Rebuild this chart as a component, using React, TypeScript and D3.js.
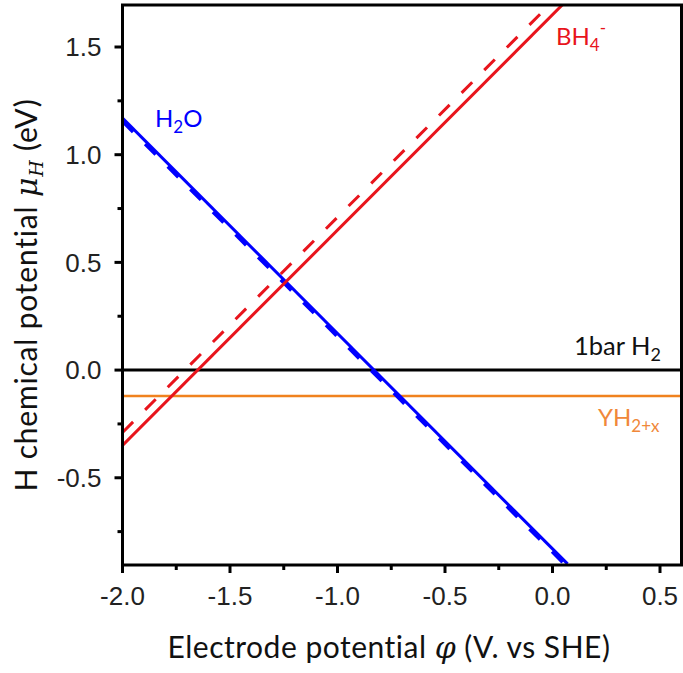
import * as d3 from 'd3'

// axis ranges and ticks
const xDomain = [-2.0, 0.6]
const yDomain = [-0.905, 1.695]
const xMajor = [-2.0, -1.5, -1.0, -0.5, 0.0, 0.5]
const xMinor = [-1.75, -1.25, -0.75, -0.25, 0.25]
const yMajor = [-0.5, 0.0, 0.5, 1.0, 1.5]
const yMinor = [-0.75, -0.25, 0.25, 0.75, 1.25]

// H2O lines (solid / dashed)
const h2oX = [-2.0, 0.07]
const h2oY = [1.17, -0.9]
const h2oDashX = [-2.0, 0.06]
const h2oDashY = [1.155, -0.905]

// BH4- lines (solid / dashed)
const bh4X = [-2.0, 0.05]
const bh4Y = [-0.35, 1.7]
const bh4DashX = [-2.0, -0.01]
const bh4DashY = [-0.29, 1.7]

// horizontal levels
const h2Level = 0.0
const yhLevel = -0.12

const W = 683
const H = 673
const margin = { left: 122.5, right: 1.5, top: 5, bottom: 108 }

export default function App() {
  const x = d3.scaleLinear().domain(xDomain).range([margin.left, W - margin.right])
  const y = d3.scaleLinear().domain(yDomain).range([H - margin.bottom, margin.top])
  const [x0, x1] = x.range()
  const [y0, y1] = y.range()

  const line = d3
    .line<[number, number]>()
    .x(d => x(d[0]))
    .y(d => y(d[1]))

  const pts = (xs: number[], ys: number[]) => xs.map((v, i) => [v, ys[i]] as [number, number])

  const tickFont = '"Liberation Sans", Arial, sans-serif'
  const labelFont = 'Lato, "Open Sans", sans-serif'
  const fmt = (v: number) => d3.format('.1f')(v).replace('−', '-')

  return (
    <svg
      width={W}
      height={H}
      style={{ position: 'absolute', left: 0, top: 0, background: '#fff' }}
    >
      <defs>
        <clipPath id="plot">
          <rect x={x0} y={y1} width={x1 - x0} height={y0 - y1} />
        </clipPath>
      </defs>

      <g clipPath="url(#plot)" fill="none" strokeLinecap="butt">
        <line x1={x0} x2={x1} y1={y(h2Level)} y2={y(h2Level)} stroke="#000" strokeWidth={3} />
        <line x1={x0} x2={x1} y1={y(yhLevel)} y2={y(yhLevel)} stroke="#f0821e" strokeWidth={2.5} />
        <path d={line(pts(h2oDashX, h2oDashY)) || ''} stroke="#0000ff" strokeWidth={3.5} strokeDasharray="15,17" />
        <path d={line(pts(h2oX, h2oY)) || ''} stroke="#0000ff" strokeWidth={3} />
        <path d={line(pts(bh4X, bh4Y)) || ''} stroke="#e8141c" strokeWidth={3} />
        <path d={line(pts(bh4DashX, bh4DashY)) || ''} stroke="#e8141c" strokeWidth={3} strokeDasharray="15,17" />
      </g>

      {/* frame */}
      <rect x={x0} y={y1} width={x1 - x0} height={y0 - y1} fill="none" stroke="#000" strokeWidth={3} />

      {/* ticks */}
      <g stroke="#000" strokeWidth={3}>
        {xMajor.map(v => (
          <line key={'xM' + v} x1={x(v)} x2={x(v)} y1={y0} y2={y0 + 8} />
        ))}
        {xMinor.map(v => (
          <line key={'xm' + v} x1={x(v)} x2={x(v)} y1={y0} y2={y0 + 5} />
        ))}
        {yMajor.map(v => (
          <line key={'yM' + v} x1={x0} x2={x0 - 8} y1={y(v)} y2={y(v)} />
        ))}
        {yMinor.map(v => (
          <line key={'ym' + v} x1={x0} x2={x0 - 5} y1={y(v)} y2={y(v)} />
        ))}
      </g>

      <g fontFamily={tickFont} fontSize={26} fill="#222">
        {xMajor.map(v => (
          <text key={'xl' + v} x={x(v)} y={y0 + 40} textAnchor="middle">
            {fmt(v)}
          </text>
        ))}
        {yMajor.map(v => (
          <text key={'yl' + v} x={x0 - 21} y={y(v) + 9.3} textAnchor="end">
            {fmt(v)}
          </text>
        ))}
      </g>

      {/* axis titles */}
      <text
        x={389}
        y={658}
        textAnchor="middle"
        fontFamily={labelFont}
        fontSize={30}
        letterSpacing={0.5}
        fill="#111"
      >
        Electrode potential{' '}
        <tspan fontFamily="'DejaVu Serif', serif" fontStyle="italic">φ</tspan> (V. vs SHE)
      </text>
      <text
        transform={`translate(37, 295) rotate(-90)`}
        textAnchor="middle"
        fontFamily={labelFont}
        fontSize={30}
        letterSpacing={0.8}
        fill="#111"
      >
        H chemical potential{' '}
        <tspan fontFamily="'DejaVu Serif', serif" fontStyle="italic">μ</tspan>
        <tspan fontFamily="'DejaVu Serif', serif" fontStyle="italic" fontSize={19} dy={6}>H</tspan>
        <tspan dy={-6}> (eV)</tspan>
      </text>

      {/* series labels */}
      <g fontFamily={labelFont} fontSize={24}>
        <text x={155} y={127} fill="#0000ff">
          H<tspan fontSize={17} dy={6}>2</tspan>
          <tspan dy={-6}>O</tspan>
        </text>
        <text x={556} y={45} fill="#e8141c">
          BH<tspan fontSize={17} dy={6}>4</tspan>
          <tspan fontSize={17} dy={-17}>-</tspan>
        </text>
        <text x={574} y={355} fontSize={25.5} fill="#111">
          1bar H<tspan fontSize={18} dy={6}>2</tspan>
        </text>
        <text x={598} y={426} fill="#f0883a">
          YH<tspan fontSize={17} dy={6}>2+x</tspan>
        </text>
      </g>
    </svg>
  )
}
